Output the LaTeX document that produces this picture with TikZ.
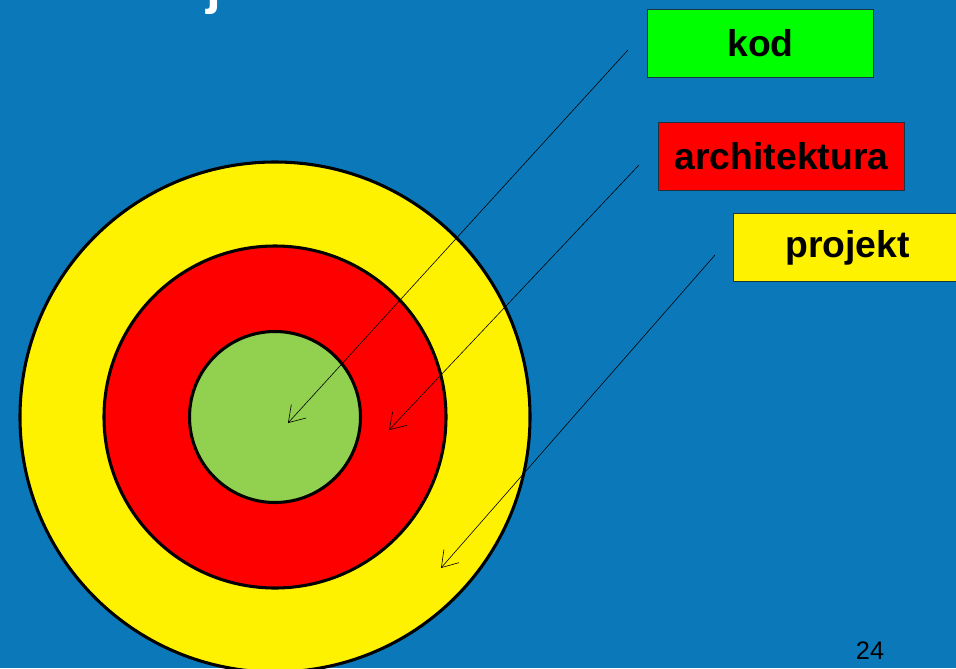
\documentclass[tikz,border=0pt]{standalone}
\usepackage{fontspec}
\setmainfont{Liberation Sans}
\usetikzlibrary{arrows.meta}
\definecolor{slideblue}{HTML}{0B79B9}
\definecolor{codegreen}{HTML}{92D050}
\definecolor{boxgreen}{HTML}{00FF00}
\definecolor{boxedge}{HTML}{1C3346}

\begin{document}
\begin{tikzpicture}[x=0.75pt,y=-0.75pt,
    ring/.style={draw=black,line width=2.3pt},
    tag/.style={draw=boxedge,line width=0.8pt,inner sep=0pt,anchor=north west,
      font=\bfseries\fontsize{28}{32}\selectfont,text=black},
    pointer/.style={line width=0.45pt,-{Straight Barb[length=11.5pt,width=15pt,line width=0.45pt]}}]
  \fill[slideblue] (0,0) rectangle (956,668);
  \useasboundingbox (0,0) rectangle (956,668);
  \node[text=white,font=\bfseries\fontsize{40}{44}\selectfont,anchor=base] (title) at (214,3) {j};
  \coordinate (mid) at (275,417);
  \filldraw[ring,fill=yellow] (mid) circle[radius=255];
  \filldraw[ring,fill=red] (mid) circle[radius=171];
  \filldraw[ring,fill=codegreen] (mid) circle[radius=85.5];
  \node[tag,fill=boxgreen,minimum width=226*0.75pt,minimum height=68*0.75pt] (kod) at (647,9) {kod};
  \node[tag,fill=red,minimum width=246*0.75pt,minimum height=68*0.75pt] (arch) at (658,122) {architektura};
  \node[tag,fill=yellow,minimum width=228*0.75pt,minimum height=68*0.75pt] (proj) at (733,213) {projekt};
  \coordinate (kodfrom) at (628,50);
  \coordinate (kodto) at (288,423);
  \coordinate (archfrom) at (639,165);
  \coordinate (archto) at (389,430);
  \coordinate (projfrom) at (715,255);
  \coordinate (projto) at (441,568);
  \draw[pointer] (kodfrom) -- (kodto);
  \draw[pointer] (archfrom) -- (archto);
  \draw[pointer] (projfrom) -- (projto);
  \node[font=\fontsize{19}{22}\selectfont,anchor=base] (page) at (870,659) {24};
\end{tikzpicture}
\end{document}
